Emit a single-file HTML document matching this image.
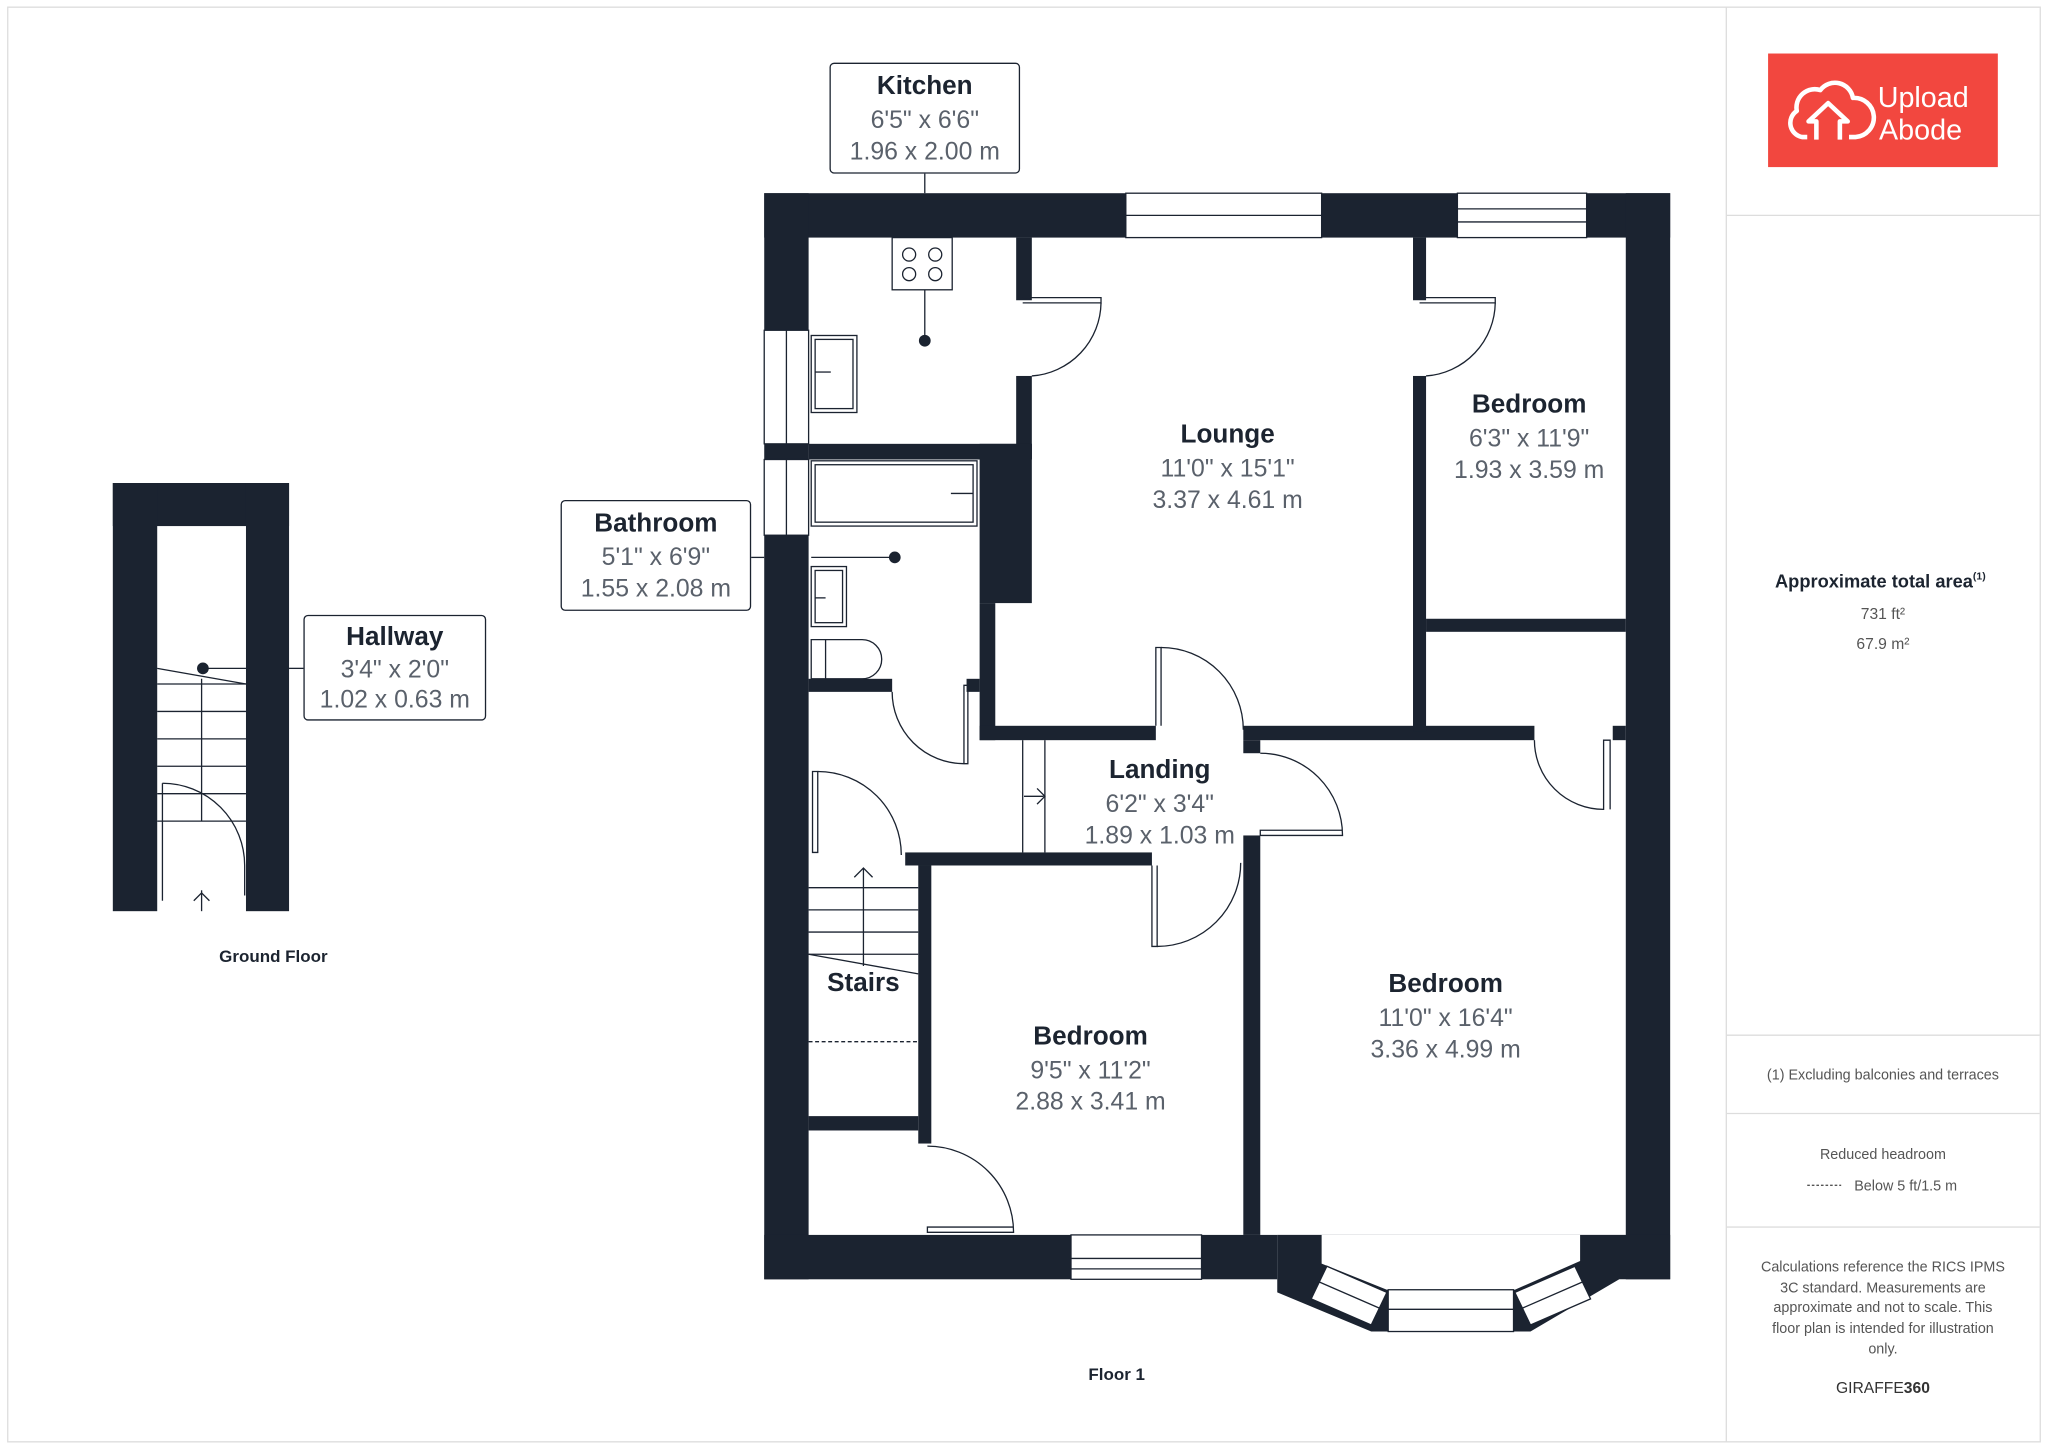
<!DOCTYPE html>
<html><head><meta charset="utf-8"><style>
html,body{margin:0;padding:0;background:#fff}
svg{display:block}
.t{font-family:"Liberation Sans",sans-serif;font-weight:bold;fill:#1c2430}
.d{font-family:"Liberation Sans",sans-serif;fill:#5a616b}
.s{font-family:"Liberation Sans",sans-serif;fill:#555}
</style></head><body>
<svg width="2048" height="1449" viewBox="0 0 1568 1110" xmlns="http://www.w3.org/2000/svg">
<rect x="5.5" y="5.5" width="1557" height="1099" fill="none" stroke="#ddd" stroke-width="1"/>
<line x1="1322" y1="5" x2="1322" y2="1105" stroke="#ddd"/>
<g stroke="#ddd"><line x1="1322" y1="165" x2="1562" y2="165"/><line x1="1322" y1="793" x2="1562" y2="793"/><line x1="1322" y1="853" x2="1562" y2="853"/><line x1="1322" y1="940" x2="1562" y2="940"/></g>
<rect x="1354" y="41" width="176" height="87" fill="#f2473f"/>
<g fill="none" stroke="#fff" stroke-width="3.5" stroke-linejoin="round">
<path d="M1384 105 h-4 a11 11 0 0 1 -4 -20 a14 14 0 0 1 18 -16 a14 14 0 0 1 25 6 a10 10 0 0 1 2 30 h-5"/>
<path d="M1391 107 v-14 h-6 l15 -14 l15 14 h-6 v14"/>
</g>
<text x="1438" y="82" font-family="Liberation Sans,sans-serif" font-size="22" fill="#fff">Upload</text>
<text x="1439" y="107" font-family="Liberation Sans,sans-serif" font-size="22" fill="#fff">Abode</text>
<text class="t" x="1440" y="450" font-size="14" text-anchor="middle">Approximate total area<tspan font-size="8" dy="-6">(1)</tspan></text>
<text class="s" x="1442" y="474" font-size="12" text-anchor="middle">731 ft²</text>
<text class="s" x="1442" y="497" font-size="12" text-anchor="middle">67.9 m²</text>
<text class="s" x="1442" y="827" font-size="11" text-anchor="middle">(1) Excluding balconies and terraces</text>
<text class="s" x="1442" y="888" font-size="11" text-anchor="middle">Reduced headroom</text>
<line x1="1384" y1="908" x2="1410" y2="908" stroke="#555" stroke-dasharray="2 1.5"/>
<text class="s" x="1420" y="912" font-size="11">Below 5 ft/1.5 m</text>
<g class="s" font-size="11" text-anchor="middle">
<text x="1442" y="974">Calculations reference the RICS IPMS</text>
<text x="1442" y="990">3C standard. Measurements are</text>
<text x="1442" y="1005">approximate and not to scale. This</text>
<text x="1442" y="1021">floor plan is intended for illustration</text>
<text x="1442" y="1037">only.</text>
</g>
<text x="1442" y="1067" font-size="12" text-anchor="middle" font-family="Liberation Sans,sans-serif" fill="#333">GIRAFFE<tspan font-weight="bold">360</tspan></text>

<g fill="#1b2330">
<rect x="86" y="370" width="135" height="33"/>
<rect x="86" y="370" width="34" height="328"/>
<rect x="188" y="370" width="33" height="328"/>
</g>
<g stroke="#1b2330" stroke-width="1" fill="none">
<line x1="120" y1="512" x2="188" y2="524"/>
<g><line x1="120" y1="524" x2="188" y2="524"/><line x1="120" y1="545" x2="188" y2="545"/><line x1="120" y1="566" x2="188" y2="566"/><line x1="120" y1="587" x2="188" y2="587"/><line x1="120" y1="608" x2="188" y2="608"/><line x1="120" y1="629" x2="188" y2="629"/></g>
<line x1="154" y1="520" x2="154" y2="629"/>
<line x1="124" y1="600" x2="124" y2="690"/>
<path d="M124 600 A63 63 0 0 1 187 663 V686"/>
<line x1="154" y1="682" x2="154" y2="698"/><path d="M148 690 L154 684 L160 690"/>
<line x1="158" y1="512" x2="188" y2="512"/><line x1="221" y1="512" x2="232" y2="512"/>
</g>
<circle cx="155" cy="512" r="4.5" fill="#1b2330"/>
<text class="t" x="209" y="737" font-size="13" text-anchor="middle">Ground Floor</text>

<g fill="#1b2330">
<rect x="585" y="148" width="694" height="34"/>
<rect x="585" y="148" width="34" height="832"/>
<rect x="1245" y="148" width="34" height="832"/>
<rect x="585" y="946" width="393" height="34"/>
<polygon points="978,946 1279,946 1279,980 1240,980 1172,1020 1050,1020 978,990"/>
</g>
<polygon points="1012,946 1210,946 1210,966 1160,988 1062,988 1012,968" fill="#fff"/>
<g fill="#1b2330">
<rect x="778" y="182" width="12" height="48"/>
<rect x="778" y="288" width="12" height="64"/>
<rect x="619" y="340" width="171" height="12"/>
<rect x="750" y="340" width="40" height="122"/>
<rect x="750" y="462" width="12" height="105"/>
<rect x="619" y="520" width="64" height="10"/>
<rect x="740" y="520" width="10" height="10"/>
<rect x="750" y="556" width="135" height="11"/>
<rect x="952" y="556" width="223" height="11"/>
<rect x="1235" y="556" width="10" height="11"/>
<rect x="1082" y="182" width="10" height="48"/>
<rect x="1082" y="288" width="10" height="272"/>
<rect x="1092" y="474" width="153" height="10"/>
<rect x="693" y="653" width="189" height="10"/>
<rect x="952" y="640" width="13" height="306"/>
<rect x="952" y="567" width="13" height="10"/>
<rect x="703" y="663" width="10" height="213"/>
<rect x="619" y="855" width="84" height="11"/>
</g>
<g fill="#fff" stroke="#1b2330" stroke-width="1">
<rect x="862" y="148" width="150" height="34"/><line x1="862" y1="165" x2="1012" y2="165"/>
<rect x="1116" y="148" width="99" height="34"/><line x1="1116" y1="160" x2="1215" y2="160"/><line x1="1116" y1="170" x2="1215" y2="170"/>
<rect x="585" y="253" width="34" height="87"/><line x1="602" y1="253" x2="602" y2="340"/>
<rect x="585" y="352" width="34" height="58"/><line x1="602" y1="352" x2="602" y2="410"/>
<rect x="820" y="946" width="100" height="34"/><line x1="820" y1="964" x2="920" y2="964"/><line x1="820" y1="972" x2="920" y2="972"/>
<rect x="1063" y="988" width="96" height="32"/><line x1="1063" y1="1003" x2="1159" y2="1003"/>
<polygon points="1016,970 1062,990 1050,1015 1004,995"/><line x1="1010" y1="982" x2="1056" y2="1002"/>
<polygon points="1160,990 1206,970 1218,995 1172,1015"/><line x1="1166" y1="1002" x2="1212" y2="982"/>
</g>
<g fill="none" stroke="#1b2330" stroke-width="1">
<rect x="683" y="182" width="46" height="40"/>
<circle cx="696" cy="195" r="5"/><circle cx="716" cy="195" r="5"/><circle cx="696" cy="210" r="5"/><circle cx="716" cy="210" r="5"/>
<line x1="708" y1="222" x2="708" y2="260"/><line x1="708" y1="133" x2="708" y2="148"/>
<rect x="621" y="257" width="35" height="59"/><rect x="624" y="260" width="29" height="53"/><line x1="624" y1="285" x2="636" y2="285"/>
<rect x="621" y="353" width="127" height="50"/><rect x="624" y="356" width="121" height="44"/><line x1="728" y1="378" x2="745" y2="378"/>
<line x1="621" y1="427" x2="685" y2="427"/><line x1="575" y1="427" x2="585" y2="427"/>
<rect x="621" y="434" width="27" height="46"/><rect x="624" y="437" width="21" height="40"/><line x1="624" y1="458" x2="632" y2="458"/>
<path d="M621 490 H660 A15 15 0 0 1 660 520 H621 Z"/><line x1="632" y1="490" x2="632" y2="520"/>
<path d="M783 228 H843 V232 H783"/><path d="M843 232 A57 57 0 0 1 790 288"/>
<path d="M1087 228 H1145 V232 H1087"/><path d="M1145 232 A57 57 0 0 1 1092 288"/>
<path d="M683 530 A55 55 0 0 0 738 585 V525 H741 V585 H738"/>
<path d="M885 556 V496 H889 V556"/><path d="M889 496 A63 63 0 0 1 952 559"/>
<path d="M965 577 A63 63 0 0 1 1028 640 H965 V636 H1028"/>
<path d="M1175 567 A53 53 0 0 0 1228 620 V567 H1233 V620"/>
<path d="M882 663 V725 H886 V663"/><path d="M886 725 A64 64 0 0 0 950 661"/>
<path d="M622 591 H626 V653 H622 Z"/><path d="M626 591 A64 64 0 0 1 690 655"/>
<path d="M710 878 A66 66 0 0 1 776 944 H710 V940 H776"/>
<line x1="783" y1="567" x2="783" y2="653"/><line x1="800" y1="567" x2="800" y2="653"/>
<path d="M784 610 H799 M794 604 L800 610 L794 616"/>
<g><line x1="619" y1="680" x2="703" y2="680"/><line x1="619" y1="697" x2="703" y2="697"/><line x1="619" y1="714" x2="703" y2="714"/><line x1="619" y1="731" x2="703" y2="731"/></g>
<line x1="619" y1="731" x2="703" y2="746"/>
<line x1="661" y1="665" x2="661" y2="740"/><path d="M654 672 L661 665 L668 672"/>
<line x1="619" y1="798" x2="703" y2="798" stroke-dasharray="3 2"/>
</g>
<g stroke="#1b2330" stroke-width="1" fill="#fff">
<rect x="635.5" y="48.5" width="145" height="84" rx="3"/>
<rect x="429.5" y="383.5" width="145" height="84" rx="3"/>
<rect x="232.5" y="471.5" width="139" height="80" rx="3"/>
</g>
<g text-anchor="middle">
<text class="t" x="708" y="72" font-size="20">Kitchen</text>
<text class="d" x="708" y="98" font-size="19">6'5" x 6'6"</text>
<text class="d" x="708" y="122" font-size="19">1.96 x 2.00 m</text>
<text class="t" x="502" y="407" font-size="20">Bathroom</text>
<text class="d" x="502" y="433" font-size="19">5'1" x 6'9"</text>
<text class="d" x="502" y="457" font-size="19">1.55 x 2.08 m</text>
<text class="t" x="302" y="494" font-size="20">Hallway</text>
<text class="d" x="302" y="519" font-size="19">3'4" x 2'0"</text>
<text class="d" x="302" y="542" font-size="19">1.02 x 0.63 m</text>
<text class="t" x="940" y="339" font-size="20">Lounge</text>
<text class="d" x="940" y="365" font-size="19">11'0" x 15'1"</text>
<text class="d" x="940" y="389" font-size="19">3.37 x 4.61 m</text>
<text class="t" x="1171" y="316" font-size="20">Bedroom</text>
<text class="d" x="1171" y="342" font-size="19">6'3" x 11'9"</text>
<text class="d" x="1171" y="366" font-size="19">1.93 x 3.59 m</text>
<text class="t" x="888" y="596" font-size="20">Landing</text>
<text class="d" x="888" y="622" font-size="19">6'2" x 3'4"</text>
<text class="d" x="888" y="646" font-size="19">1.89 x 1.03 m</text>
<text class="t" x="661" y="759" font-size="20">Stairs</text>
<text class="t" x="835" y="800" font-size="20">Bedroom</text>
<text class="d" x="835" y="826" font-size="19">9'5" x 11'2"</text>
<text class="d" x="835" y="850" font-size="19">2.88 x 3.41 m</text>
<text class="t" x="1107" y="760" font-size="20">Bedroom</text>
<text class="d" x="1107" y="786" font-size="19">11'0" x 16'4"</text>
<text class="d" x="1107" y="810" font-size="19">3.36 x 4.99 m</text>
<text class="t" x="855" y="1057" font-size="13">Floor 1</text>
</g>
<circle cx="708" cy="261" r="4.5" fill="#1b2330"/>
<circle cx="685" cy="427" r="4.5" fill="#1b2330"/>
</svg>
</body></html>
